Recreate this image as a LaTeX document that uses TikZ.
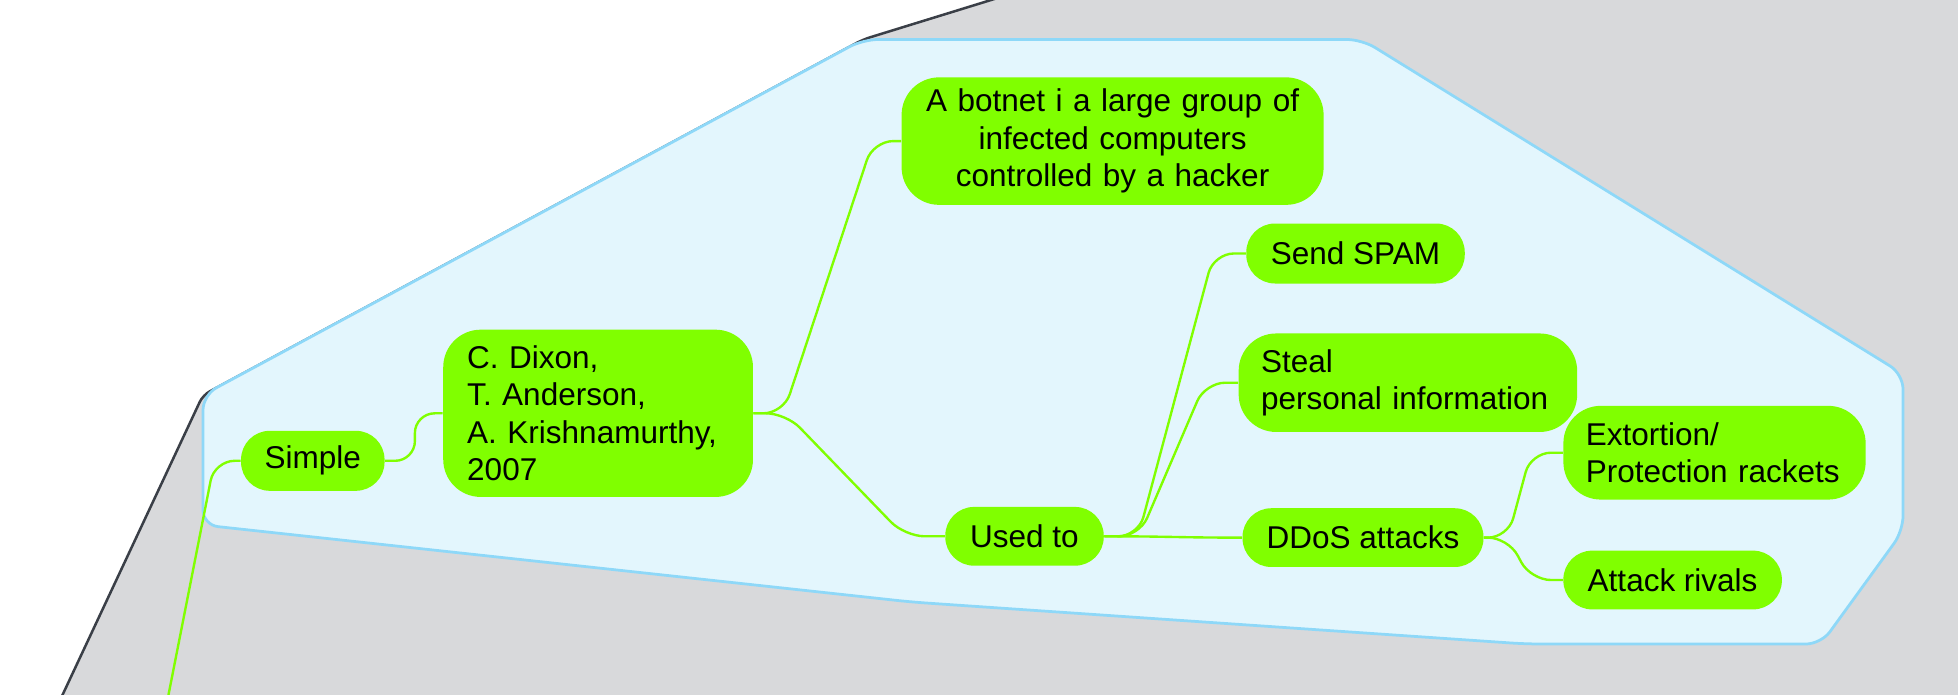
\documentclass[tikz,border=0pt]{standalone}
\usepackage{fontspec}
\setmainfont{Liberation Sans}
\definecolor{ngreen}{HTML}{80FF00}
\definecolor{zgray}{HTML}{D8D9DB}
\definecolor{zdark}{HTML}{3A3F47}
\definecolor{bfill}{HTML}{E3F6FD}
\definecolor{bline}{HTML}{8ED8F8}
\newcommand\mmlink[4]{\draw[link] (#1.east) -- ++(#3,0) -- ([xshift=-#4]#2.west) -- (#2.west);}
\begin{document}
\begin{tikzpicture}[x=0.4pt,y=-0.4pt,
  topic/.style={fill=ngreen, inner sep=0pt, font=\fontsize{12.6}{15}\selectfont, text=black},
  pill/.style={topic, rounded corners=11.5pt, align=center},
  multi/.style={topic, rounded corners=15pt},
  link/.style={draw=ngreen, line width=0.95pt, rounded corners=8pt}]
\useasboundingbox (0,0) rectangle (1958,694);
\clip (0,0) rectangle (1958,694);
\fill[white] (0,0) rectangle (1958,694);
% grey sheet
\fill[zgray, rounded corners=3pt] (40,743) -- (203,395) -- (863,39.5) -- (1030,-12) -- (2000,-12) -- (2000,743) -- cycle;
\draw[zdark, line width=1pt, rounded corners=3pt] (40,743) -- (203,395) -- (863,39.5) -- (1030,-12);
% blue boundary
\filldraw[fill=bfill, draw=bline, line width=1.1pt, rounded corners=6pt]
  (203,395) -- (863,39.5) -- (1362,39.5) -- (1903,374) -- (1903,531) -- (1821,644)
  -- (1526,644) -- (911.5,602) -- (203,525) -- cycle;
% topics
\node[multi, align=center, minimum width=168.8pt, minimum height=51pt, text width=162pt] (botnet) at (1112.6,141.1) {A botnet i a large group of\\infected computers\\controlled by a hacker};
\node[multi, align=left, minimum width=123.9pt, minimum height=66.9pt, text width=104.7pt] (dixon) at (598.1,413.3) {C. Dixon,\\T. Anderson,\\A. Krishnamurthy,\\2007};
\node[pill, minimum width=57.4pt, minimum height=24pt] (simple) at (312.8,460.8) {Simple};
\node[pill, minimum width=63.4pt, minimum height=23.5pt] (usedto) at (1024.5,536.3) {Used to};
\node[pill, minimum width=87.4pt, minimum height=24pt] (spam) at (1355.5,253.5) {Send SPAM};
\node[multi, align=left, minimum width=135.4pt, minimum height=39.4pt, text width=117.4pt] (steal) at (1407.9,382.7) {Steal\\personal information};
\node[pill, minimum width=96.4pt, minimum height=23.5pt] (ddos) at (1363,537.6) {DDoS attacks};
\node[multi, align=left, minimum width=120.9pt, minimum height=37.5pt, text width=103pt] (extort) at (1714.5,452.7) {Extortion/\\Protection rackets};
\node[pill, minimum width=87.4pt, minimum height=23.5pt] (rivals) at (1672.6,580) {Attack rivals};
% connectors
\coordinate (bot) at (159.6,740);
\draw[link] (bot) -- ([xshift=-10.4pt]simple.west) -- (simple.west);
\mmlink{simple}{dixon}{12pt}{11.2pt}
\mmlink{dixon}{botnet}{12pt}{11.2pt}
\mmlink{dixon}{usedto}{13pt}{16pt}
\mmlink{usedto}{spam}{13.6pt}{12.8pt}
\mmlink{usedto}{steal}{14pt}{13.2pt}
\mmlink{usedto}{ddos}{12.8pt}{12.8pt}
\mmlink{ddos}{extort}{9.6pt}{12.8pt}
\mmlink{ddos}{rivals}{9.6pt}{12.8pt}
\end{tikzpicture}
\end{document}
